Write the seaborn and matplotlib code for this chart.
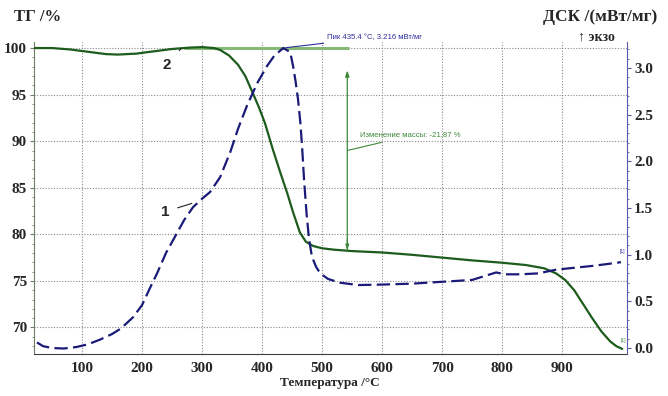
import matplotlib
matplotlib.use("Agg")
import matplotlib.pyplot as plt
from matplotlib.ticker import MultipleLocator, FormatStrFormatter
import seaborn as sns
import pandas as pd

# Thermogravimetry (TG), mass %
temp_tg = [20, 50, 80, 110, 140, 160, 190, 220, 250, 280, 300, 320, 330, 345,
           360, 372, 385, 395, 405, 418, 430, 442, 452, 463, 473, 485, 500,
           520, 550, 600, 650, 700, 750, 800, 840, 870, 890, 905, 920, 935,
           950, 965, 980, 990, 1000]
tg = [100.0, 100.0, 99.85, 99.6, 99.35, 99.3, 99.4, 99.65, 99.9, 100.05,
      100.1, 100.0, 99.8, 99.2, 98.2, 97.0, 95.1, 93.6, 91.9, 89.1, 86.7,
      84.4, 82.3, 80.2, 79.2, 78.75, 78.5, 78.35, 78.2, 78.05, 77.8, 77.5,
      77.2, 76.95, 76.7, 76.35, 75.8, 75.1, 74.0, 72.5, 71.0, 69.6, 68.5,
      68.0, 67.7]

# Differential scanning calorimetry (DSC), mW/mg
temp_dsc = [25, 35, 50, 70, 90, 110, 130, 150, 165, 185, 200, 213, 225, 240,
            258, 270, 285, 300, 313, 330, 347, 360, 375, 392, 408, 420, 435.4,
            447, 452, 456, 460, 464, 467, 470, 474, 478, 483, 490, 497, 510,
            530, 560, 600, 650, 700, 750, 770, 790, 805, 830, 860, 890, 920,
            950, 975, 998]
dsc = [0.06, 0.02, 0.0, -0.005, 0.01, 0.04, 0.09, 0.15, 0.21, 0.33, 0.46,
       0.64, 0.80, 1.02, 1.23, 1.37, 1.51, 1.60, 1.67, 1.83, 2.10, 2.35, 2.60,
       2.84, 3.02, 3.13, 3.216, 3.17, 3.01, 2.85, 2.66, 2.40, 2.12, 1.80,
       1.45, 1.18, 0.98, 0.87, 0.80, 0.74, 0.70, 0.675, 0.68, 0.69, 0.71,
       0.73, 0.77, 0.81, 0.79, 0.79, 0.80, 0.84, 0.86, 0.88, 0.90, 0.92]

x_ticks = [100, 200, 300, 400, 500, 600, 700, 800, 900]
tg_ticks = [70, 75, 80, 85, 90, 95, 100]
dsc_ticks = [0.0, 0.5, 1.0, 1.5, 2.0, 2.5, 3.0]

peak_t, peak_dsc = 435.4, 3.216
mass_change = -21.87

GREEN = "#1d5c1d"
LIGHT_GREEN = "#86b878"
MID_GREEN = "#3f8a3a"
NAVY = "#1a1a78"
PEAK_BLUE = "#3030a0"

sns.set_style("white")
serif = ["Liberation Serif", "DejaVu Serif"]
sans = ["Liberation Sans", "DejaVu Sans"]

fig = plt.figure(figsize=(6.68, 3.96), dpi=100)
ax = fig.add_axes([34 / 668, 1 - 354 / 396, (627 - 34) / 668, (354 - 42) / 396])
ax2 = ax.twinx()

df_tg = pd.DataFrame({"T": temp_tg, "TG": tg})
df_dsc = pd.DataFrame({"T": temp_dsc, "DSC": dsc})

# guide line at the initial mass level
ax.plot([270, 544], [100, 100], color=LIGHT_GREEN, lw=2.2, zorder=2,
        solid_capstyle="butt")

sns.lineplot(data=df_tg, x="T", y="TG", ax=ax, color=GREEN, lw=1.6,
             zorder=3, legend=False)
sns.lineplot(data=df_dsc, x="T", y="DSC", ax=ax2, color=NAVY, lw=1.6,
             linestyle=(0, (6, 2.4)), zorder=3, legend=False)

ax.set_xlim(20, 1008)
ax.set_ylim(67.15, 100.65)
ax2.set_ylim(-0.064, 3.28)

ax.set_xticks(x_ticks)
ax.set_yticks(tg_ticks)
ax2.set_yticks(dsc_ticks)
ax.xaxis.set_minor_locator(MultipleLocator(20))
ax.yaxis.set_minor_locator(MultipleLocator(1))
ax2.yaxis.set_minor_locator(MultipleLocator(0.1))
ax2.yaxis.set_major_formatter(FormatStrFormatter("%.1f"))

ax.grid(True, which="major", linestyle=(0, (1, 1.5)), color="#8a8a8a", lw=0.8)
ax2.grid(False)
ax.set_axisbelow(True)

for a in (ax, ax2):
    a.spines["top"].set_visible(False)
    a.set_xlabel("")
    a.set_ylabel("")
ax.spines["left"].set_color("#6f7f66")
ax.spines["bottom"].set_color("#404040")
ax.spines["right"].set_visible(False)
ax2.spines["left"].set_visible(False)
ax2.spines["bottom"].set_visible(False)
ax2.spines["right"].set_color("#5a5aa8")

ax.tick_params(axis="x", which="major", direction="out", length=3, pad=3,
               color="#404040")
ax.tick_params(axis="x", which="minor", direction="out", length=2,
               color="#404040")
ax.tick_params(axis="y", which="major", direction="out", length=3, pad=2,
               color="#6f7f66")
ax.tick_params(axis="y", which="minor", direction="out", length=1.5,
               color="#6f7f66")
ax2.tick_params(axis="y", which="major", direction="out", length=3, pad=2,
                color="#5a5aa8")
ax2.tick_params(axis="y", which="minor", direction="out", length=1.5,
                color="#5a5aa8")
for lab in ax.get_xticklabels() + ax.get_yticklabels() + ax2.get_yticklabels():
    lab.set_family(serif)
    lab.set_fontweight("bold")
    lab.set_fontsize(11)

# axis titles
fig.text(38 / 668, 1 - 17 / 396, "ТГ /%", family=serif, fontweight="bold",
         fontsize=12, ha="center", va="center")
fig.text(600 / 668, 1 - 17 / 396, "ДСК /(мВт/мг)", family=serif,
         fontweight="bold", fontsize=12.5, ha="center", va="center")
fig.text(596 / 668, 1 - 37 / 396, "↑ экзо", family=serif, fontweight="bold",
         fontsize=10, ha="center", va="center")
fig.text(330 / 668, 1 - 383 / 396, "Температура /°C", family=serif,
         fontweight="bold", fontsize=9.5, ha="center", va="center")

# peak annotation
ax2.annotate(f"Пик {peak_t} °C, {peak_dsc} мВт/мг", xy=(peak_t, peak_dsc),
             xytext=(508, 3.33), textcoords="data", family=sans, fontsize=5.6,
             color=PEAK_BLUE, ha="left", va="center", annotation_clip=False,
             arrowprops=dict(arrowstyle="-", color=PEAK_BLUE, lw=0.8,
                             shrinkA=0, shrinkB=2))

# mass change arrow and label
ax.annotate("", xy=(542, 97.6), xytext=(542, 78.3),
            arrowprops=dict(arrowstyle="-|>,head_length=0.35,head_width=0.12",
                            color=MID_GREEN, lw=0.9, shrinkA=0, shrinkB=0))
ax.annotate("", xy=(542, 78.3), xytext=(542, 79.5),
            arrowprops=dict(arrowstyle="-|>,head_length=0.3,head_width=0.1",
                            color=MID_GREEN, lw=0.9, shrinkA=0, shrinkB=0))
ax.annotate(f"Изменение массы: {mass_change} %", xy=(542, 89.0),
            xytext=(563, 90.6), family=sans, fontsize=5.6, color=MID_GREEN,
            ha="left", va="center",
            arrowprops=dict(arrowstyle="-", color=MID_GREEN, lw=0.8,
                            shrinkA=0, shrinkB=0))

# curve labels
ax2.annotate("1", xy=(283, 1.55), xytext=(238, 1.46), family=sans,
             fontweight="bold", fontsize=11, ha="center", va="center",
             arrowprops=dict(arrowstyle="-", color="#222222", lw=0.8,
                             shrinkA=4, shrinkB=0))
ax.annotate("2", xy=(265, 99.95), xytext=(242, 98.2), family=sans,
            fontweight="bold", fontsize=11, ha="center", va="center",
            arrowprops=dict(arrowstyle="-", color="#222222", lw=0.8,
                            shrinkA=5, shrinkB=0))

# curve end markers
ax2.text(1000, 1.03, "[1]", fontsize=3.5, color=PEAK_BLUE, ha="center",
         va="center", family=sans)
ax.text(1002, 68.6, "[1]", fontsize=3.5, color=MID_GREEN, ha="center",
        va="center", family=sans)

fig.savefig("out.png", dpi=100, facecolor="white")
